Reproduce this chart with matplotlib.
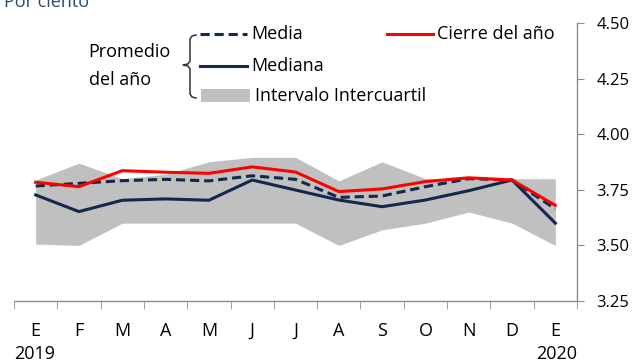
# Expectativas de inflación: promedio del año y cierre del año
import numpy as np
import matplotlib.pyplot as plt
from matplotlib.lines import Line2D
from matplotlib.patches import Rectangle

plt.rcParams['font.family'] = ['Open Sans', 'DejaVu Sans']

meses = ["E", "F", "M", "A", "M", "J", "J", "A", "S", "O", "N", "D", "E"]
anios = ["2019", "2020"]

media = [3.767, 3.779, 3.791, 3.797, 3.790, 3.813, 3.797, 3.716, 3.722, 3.764, 3.800, 3.794, 3.664]
mediana = [3.727, 3.652, 3.703, 3.709, 3.703, 3.794, 3.749, 3.704, 3.674, 3.704, 3.746, 3.794, 3.600]
cierre = [3.784, 3.764, 3.836, 3.829, 3.824, 3.853, 3.830, 3.742, 3.754, 3.787, 3.804, 3.794, 3.680]
q_inf = [3.506, 3.500, 3.600, 3.600, 3.600, 3.600, 3.600, 3.500, 3.570, 3.600, 3.650, 3.600, 3.500]
q_sup = [3.794, 3.870, 3.800, 3.820, 3.876, 3.896, 3.896, 3.790, 3.876, 3.800, 3.800, 3.800, 3.800]

azul = "#13284a"
rojo = "#ff0000"
gris = "#c0c0c0"
eje = "#8c8c8c"
fs = 13

W, H = 637, 364
fig = plt.figure(figsize=(W / 100, H / 100), dpi=100)
ax = fig.add_axes([14 / W, 1 - 301 / H, (577 - 14) / W, (301 - 23) / H])

x = np.arange(len(meses))
ax.fill_between(x, q_inf, q_sup, color=gris, lw=0, zorder=1)
ax.plot(x, mediana, color=azul, lw=2.2, zorder=3)
ax.plot(x, media, color=azul, lw=2.2, ls=(0, (3, 1.6)), zorder=4)
ax.plot(x, cierre, color=rojo, lw=2.2, zorder=5)

ax.set_xlim(-0.5, len(meses) - 0.5)
ax.set_ylim(3.25, 4.50)

# eje y a la derecha
ax.yaxis.tick_right()
ax.set_yticks([3.25, 3.50, 3.75, 4.00, 4.25, 4.50])
ax.set_yticklabels(["%.2f" % v for v in ax.get_yticks()], fontsize=12)
ax.tick_params(axis="y", direction="out", length=5, color=eje, pad=9)

# eje x: marcas entre meses, etiquetas centradas
ax.set_xticks(np.arange(-0.5, len(meses)), minor=True)
ax.set_xticks(x)
ax.set_xticklabels(meses, fontsize=fs)
ax.tick_params(axis="x", which="major", length=0, pad=15)
ax.tick_params(axis="x", which="minor", direction="out", length=6, color=eje)

for s in ["top", "left"]:
    ax.spines[s].set_visible(False)
for s in ["bottom", "right"]:
    ax.spines[s].set_color(eje)
    ax.spines[s].set_linewidth(1)

def px(xp, yp):
    return xp / W, 1 - yp / H

# años debajo del primer y último mes
fig.text(*px(35, 354), anios[0], fontsize=fs, ha="center", va="center")
fig.text(*px(557, 354), anios[1], fontsize=fs, ha="center", va="center")

fig.text(*px(4, 7), "Por ciento", fontsize=fs, color="#2f4a6b", ha="left", va="baseline")

# leyenda a mano
def linea(x0, x1, y, **kw):
    (a, b), (c, d) = px(x0, y), px(x1, y)
    fig.add_artist(Line2D([a, c], [b, d], **kw))

linea(200, 247, 34, color=azul, lw=2.2, ls=(0, (3, 1.6)))
fig.text(*px(251, 34), "Media", fontsize=fs, va="center")
linea(200, 247, 66, color=azul, lw=2.2)
fig.text(*px(251, 66), "Mediana", fontsize=fs, va="center")
rx, ry = px(201, 102)
fig.add_artist(Rectangle((rx, ry), 49 / W, 13 / H, color=gris, lw=0,
                         transform=fig.transFigure))
fig.text(*px(255, 96), "Intervalo Intercuartil", fontsize=fs, va="center")
linea(387, 433, 34, color=rojo, lw=2.2)
fig.text(*px(437, 34), "Cierre del año", fontsize=fs, va="center")

fig.text(*px(171, 52), "Promedio", fontsize=fs, ha="right", va="center")
fig.text(*px(151, 80), "del año", fontsize=fs, ha="right", va="center")

# llave
llave = [(196, 35), (192, 36), (190, 39), (190, 61), (188, 64), (183, 65),
         (188, 66), (190, 69), (190, 94), (192, 97), (196, 98)]
bx, by = zip(*[px(p, q) for p, q in llave])
fig.add_artist(Line2D(bx, by, color="#333333", lw=1.1))

fig.savefig("out.png", dpi=100)
